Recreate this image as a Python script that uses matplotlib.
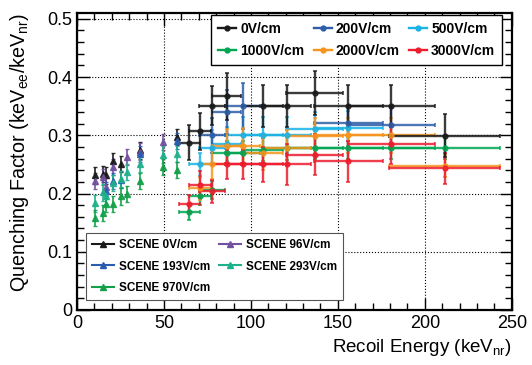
import matplotlib
matplotlib.use('Agg')
import matplotlib.pyplot as plt
from matplotlib.lines import Line2D
from matplotlib.ticker import MultipleLocator, FixedLocator, FixedFormatter
import numpy as np

plt.rcParams['font.family'] = 'Liberation Sans'
plt.rcParams['mathtext.fontset'] = 'custom'
plt.rcParams['mathtext.rm'] = 'Liberation Sans'

nan = np.nan

# recoil energy columns (keV_nr) and horizontal half-widths
E_NR = [64.5, 70.7, 77.4, 86.0, 95.2, 106.7, 120.5, 136.6, 156.1, 180.8, 211.5]
E_ERR = [6.0, 6.5, 7.5, 8.5, 10.0, 12.0, 14.0, 16.5, 20.0, 25.0, 32.0]

QF_0V = [0.287, 0.307, 0.351, 0.367, nan, 0.350, 0.351, 0.372, 0.351, 0.351, 0.299]
ERR_0V = [0.030, 0.032, 0.033, 0.040, nan, 0.036, 0.036, 0.038, 0.036, 0.036, 0.037]
QF_200V = [nan, nan, 0.300, 0.340, 0.350, nan, nan, nan, 0.321, 0.317, nan]
ERR_200V = [nan, nan, 0.030, 0.037, 0.040, nan, nan, nan, 0.030, 0.030, nan]
QF_500V = [nan, 0.250, 0.279, 0.285, 0.300, 0.300, 0.300, 0.310, 0.312, nan, nan]
ERR_500V = [nan, 0.020, 0.030, 0.030, 0.031, 0.031, 0.031, 0.030, 0.030, nan, nan]
QF_1000V = [0.168, 0.195, 0.206, 0.270, 0.270, 0.275, 0.278, 0.279, 0.279, 0.279, 0.279]
ERR_1000V = [0.013, 0.015, 0.015, 0.020, 0.020, 0.020, 0.020, 0.020, 0.020, 0.020, 0.020]
QF_2000V = [nan, 0.209, 0.250, 0.281, 0.282, 0.270, 0.279, 0.299, 0.300, 0.300, 0.248]
ERR_2000V = [nan, 0.020, 0.025, 0.030, 0.030, 0.030, 0.030, 0.030, 0.030, 0.030, 0.020]
QF_3000V = [0.182, 0.215, 0.204, 0.250, 0.250, 0.250, 0.250, 0.267, 0.255, 0.285, 0.243]
ERR_3000V = [0.015, 0.023, 0.020, 0.025, 0.025, 0.030, 0.035, 0.035, 0.035, 0.035, 0.026]

# SCENE measurements
SCENE_E = [10.3, 14.8, 16.9, 20.5, 25.4, 28.7, 36.1, 49.7, 57.3]
S_0V = [0.231, 0.234, 0.231, 0.256, 0.251, nan, 0.274, nan, 0.297]
S_96V = [0.221, 0.228, 0.212, 0.245, nan, 0.263, 0.272, 0.289, nan]
S_193V = [nan, nan, 0.205, 0.222, 0.224, nan, 0.268, nan, 0.290]
S_293V = [0.183, 0.202, 0.196, 0.218, 0.225, 0.237, 0.251, 0.267, 0.268]
S_970V = [0.158, 0.166, 0.182, 0.182, 0.195, 0.199, 0.222, 0.245, 0.240]
S_ERR = 0.014

FIELD_SERIES = [  # label, values, errors, colour (drawing order)
    ('500V/cm', QF_500V, ERR_500V, '#19b3e6'),
    ('200V/cm', QF_200V, ERR_200V, '#2e5ea8'),
    ('1000V/cm', QF_1000V, ERR_1000V, '#00a651'),
    ('2000V/cm', QF_2000V, ERR_2000V, '#f7941d'),
    ('3000V/cm', QF_3000V, ERR_3000V, '#ed1c2e'),
    ('0V/cm', QF_0V, ERR_0V, '#1a1a1a'),
]
SCENE_SERIES = [
    ('SCENE 0V/cm', S_0V, '#1a1a1a'),
    ('SCENE 96V/cm', S_96V, '#7451a0'),
    ('SCENE 193V/cm', S_193V, '#2a5db0'),
    ('SCENE 293V/cm', S_293V, '#1fb08c'),
    ('SCENE 970V/cm', S_970V, '#13a049'),
]

fig = plt.figure(figsize=(5.32, 3.65), dpi=100)
ax = fig.add_axes([0.1447, 0.1507, 0.8173, 0.8137])

handles = {}
for label, qf, err, col in FIELD_SERIES:
    x = np.array(E_NR); y = np.array(qf); e = np.array(err); xe = np.array(E_ERR)
    m = ~np.isnan(y)
    ax.errorbar(x[m], y[m], xerr=xe[m], yerr=e[m], fmt='o', color=col,
                ms=3.5, elinewidth=1.7, capsize=1.5, capthick=1.2, alpha=0.85)
    handles[label] = Line2D([], [], color=col, marker='o', ms=3.5, lw=1.7)

shandles = {}
for label, qf, col in SCENE_SERIES:
    x = np.array(SCENE_E); y = np.array(qf)
    m = ~np.isnan(y)
    ax.errorbar(x[m], y[m], yerr=S_ERR, fmt='^', color=col, ms=5,
                elinewidth=1.3, capsize=1.5, capthick=1.0, alpha=0.9)
    shandles[label] = Line2D([], [], color=col, marker='^', ms=5, lw=1.5)

ax.set_xlim(0, 250)
ax.set_ylim(0, 0.51)
ax.xaxis.set_major_locator(MultipleLocator(50))
ax.xaxis.set_minor_locator(MultipleLocator(10))
yt = [0, 0.1, 0.2, 0.3, 0.4, 0.5]
ax.yaxis.set_major_locator(FixedLocator(yt))
ax.yaxis.set_major_formatter(FixedFormatter(['0', '0.1', '0.2', '0.3', '0.4', '0.5']))
ax.yaxis.set_minor_locator(MultipleLocator(0.02))
ax.tick_params(which='both', direction='in', top=True, right=True, labelsize=13)
ax.tick_params(which='major', length=9, width=1.0)
ax.tick_params(which='minor', length=5, width=1.0)
for sp in ax.spines.values():
    sp.set_linewidth(1.6)
ax.grid(True, which='major', color='black', linestyle=':', linewidth=0.8)
ax.set_axisbelow(True)

ax.set_xlabel(r'Recoil Energy (keV$_{\mathrm{nr}}$)', fontsize=13.5, loc='right')
ax.set_ylabel(r'Quenching Factor (keV$_{\mathrm{ee}}$/keV$_{\mathrm{nr}}$)', fontsize=14.2, loc='top')
ax.yaxis.set_label_coords(-0.105, 1.0)

order = ['0V/cm', '1000V/cm', '200V/cm', '2000V/cm', '500V/cm', '3000V/cm']
leg1 = ax.legend([handles[k] for k in order], order, ncol=3, loc='upper right',
                 bbox_to_anchor=(0.978, 0.993), borderaxespad=0,
                 prop={'weight': 'bold', 'size': 10},
                 frameon=True, fancybox=False, edgecolor='black', framealpha=1,
                 handlelength=1.3, handletextpad=0.3, columnspacing=0.65,
                 borderpad=0.5, labelspacing=0.55)
leg1.get_frame().set_linewidth(1.0)
ax.add_artist(leg1)

sorder = ['SCENE 0V/cm', 'SCENE 193V/cm', 'SCENE 970V/cm', 'SCENE 96V/cm', 'SCENE 293V/cm']
leg2 = ax.legend([shandles[k] for k in sorder], sorder, ncol=2, loc='lower left',
                 bbox_to_anchor=(0.021, 0.034), borderaxespad=0,
                 prop={'weight': 'bold', 'size': 8.5},
                 frameon=True, fancybox=False, edgecolor='#555555', framealpha=1,
                 handlelength=1.9, handletextpad=0.4, columnspacing=0.7,
                 borderpad=0.5, labelspacing=0.8)
leg2.get_frame().set_linewidth(0.8)

fig.savefig('out.png', dpi=100)
